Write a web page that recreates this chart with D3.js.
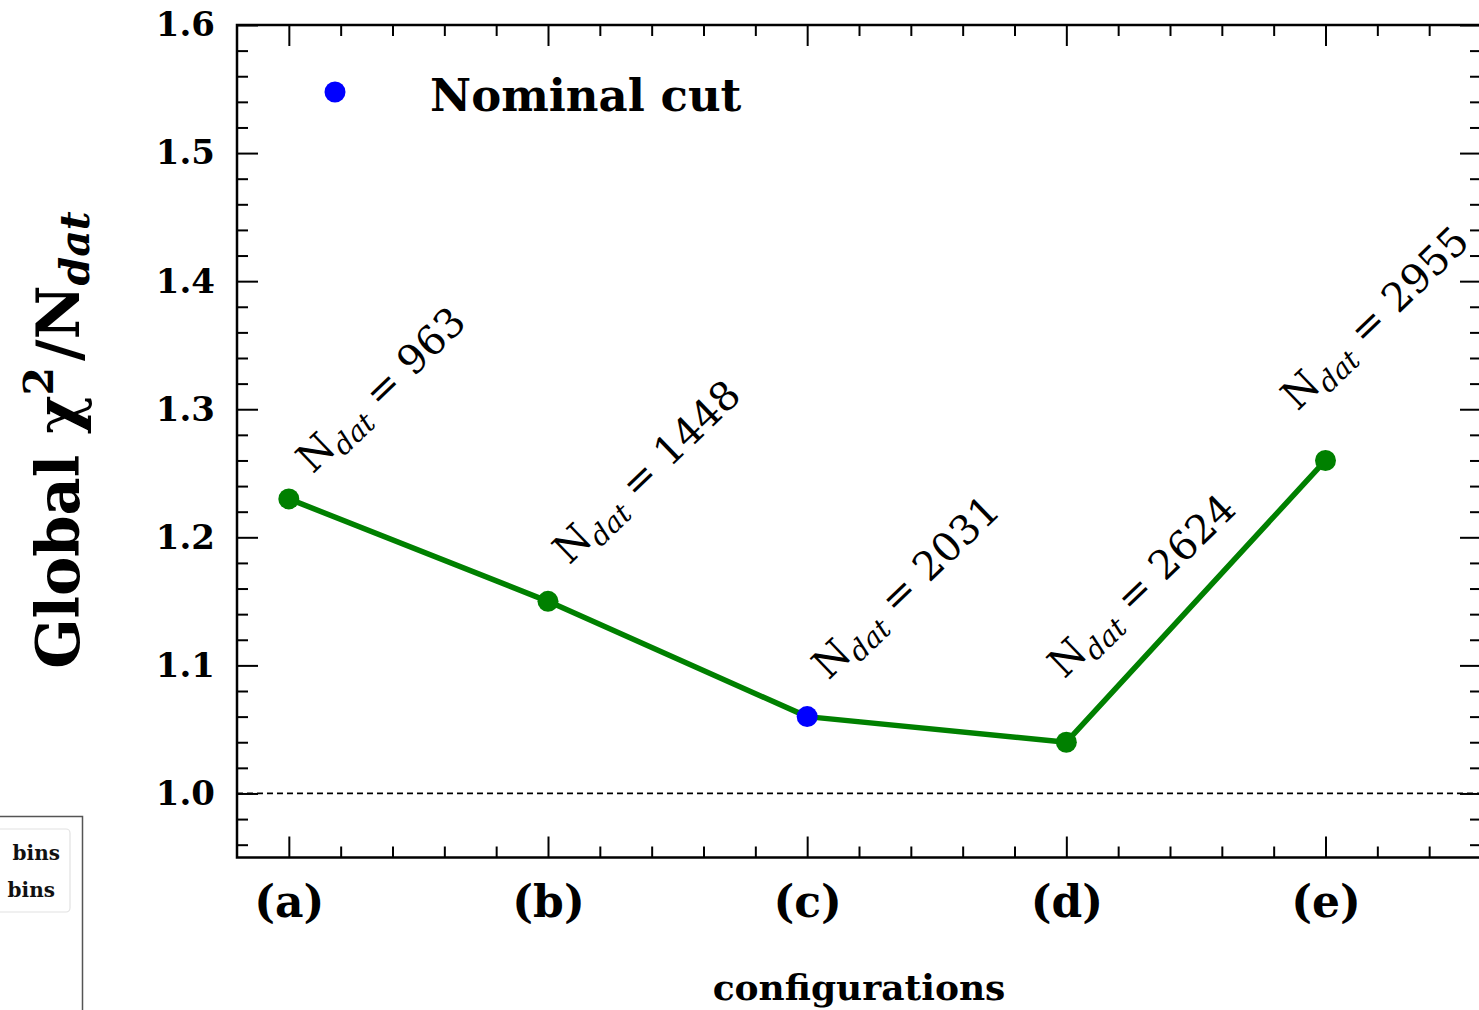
<!DOCTYPE html>
<html>
<head>
<meta charset="utf-8">
<script src="https://cdn.jsdelivr.net/npm/d3@7"></script>
<style>
  html, body { margin: 0; padding: 0; background: #ffffff; }
  svg { display: block; }
</style>
</head>
<body>
<svg id="chart" width="1479" height="1010"></svg>
<script>
// ---- data ----
const configurations = ["(a)", "(b)", "(c)", "(d)", "(e)"];
const chi2PerPoint = [1.23, 1.15, 1.06, 1.04, 1.26];
const nDat = [963, 1448, 2031, 2624, 2955];
const nominalConfig = "(c)";
const yTickValues = [1.0, 1.1, 1.2, 1.3, 1.4, 1.5, 1.6];
const yTickLabels = ["1.0", "1.1", "1.2", "1.3", "1.4", "1.5", "1.6"];

// ---- layout ----
const plot = { left: 237, right: 1481, top: 25, bottom: 857.5 };
const serif = "'DejaVu Serif', 'Liberation Serif', serif";
// where each N_dat annotation starts, relative to its point (x in category units, y in chi2 units)
const annotationShift = [
  [0.092, 0.019], [0.082, 0.028], [0.082, 0.028], [-0.008, 0.049], [-0.108, 0.038]
];

const svg = d3.select("#chart");

const x = d3.scaleLinear().domain([-0.2, 4.6]).range([plot.left, plot.right]);
const y = d3.scaleLinear().domain([0.95, 1.6]).range([plot.bottom, plot.top]);

const idx = d3.range(configurations.length);
const xMinor = d3.range(1, 23).map(k => k * 0.2).filter(v => Math.abs(v - Math.round(v)) > 1e-6 && v < 4.59);
const yMinor = d3.range(0, 33).map(k => +(0.96 + k * 0.02).toFixed(2))
  .filter(v => v < 1.6 && Math.abs(v * 10 - Math.round(v * 10)) > 1e-6);

const axesG = svg.append("g");

function styleAxis(g) {
  g.select(".domain").remove();
  g.selectAll(".tick line").attr("stroke", "#000").attr("stroke-width", 2);
}

// bottom (labelled) and top major ticks
axesG.append("g").attr("transform", `translate(0,${plot.bottom})`)
  .call(d3.axisBottom(x).tickValues(idx).tickSize(-21).tickFormat(i => configurations[i]))
  .call(styleAxis)
  .call(g => g.selectAll("text")
    .attr("y", 59).attr("dy", null)
    .attr("font-family", serif).attr("font-weight", "bold")
    .attr("font-size", 44).attr("fill", "#000"));
axesG.append("g").attr("transform", `translate(0,${plot.bottom})`)
  .call(d3.axisBottom(x).tickValues(xMinor).tickSize(-11).tickFormat(""))
  .call(styleAxis);
axesG.append("g").attr("transform", `translate(0,${plot.top})`)
  .call(d3.axisTop(x).tickValues(idx).tickSize(-21).tickFormat(""))
  .call(styleAxis);
axesG.append("g").attr("transform", `translate(0,${plot.top})`)
  .call(d3.axisTop(x).tickValues(xMinor).tickSize(-11).tickFormat(""))
  .call(styleAxis);

// left (labelled) and right ticks
axesG.append("g").attr("transform", `translate(${plot.left},0)`)
  .call(d3.axisLeft(y).tickValues(yTickValues).tickSize(-21).tickPadding(22)
    .tickFormat((d, i) => yTickLabels[i]))
  .call(styleAxis)
  .call(g => g.selectAll("text")
    .attr("font-family", serif).attr("font-weight", "bold")
    .attr("font-size", 34).attr("fill", "#000"));
axesG.append("g").attr("transform", `translate(${plot.left},0)`)
  .call(d3.axisLeft(y).tickValues(yMinor).tickSize(-11).tickFormat(""))
  .call(styleAxis);
axesG.append("g").attr("transform", `translate(${plot.right},0)`)
  .call(d3.axisRight(y).tickValues(yTickValues).tickSize(-21).tickFormat(""))
  .call(styleAxis);
axesG.append("g").attr("transform", `translate(${plot.right},0)`)
  .call(d3.axisRight(y).tickValues(yMinor).tickSize(-11).tickFormat(""))
  .call(styleAxis);

// frame
svg.append("rect")
  .attr("x", plot.left).attr("y", plot.top)
  .attr("width", plot.right - plot.left).attr("height", plot.bottom - plot.top)
  .attr("fill", "none").attr("stroke", "#000").attr("stroke-width", 2.5);

// reference line at chi2/N = 1
svg.append("line")
  .attr("x1", plot.left).attr("x2", plot.right)
  .attr("y1", y(1.0)).attr("y2", y(1.0))
  .attr("stroke", "#000").attr("stroke-width", 1.8)
  .attr("stroke-dasharray", "6,4");

// series line
const line = d3.line().x(i => x(i)).y(i => y(chi2PerPoint[i]));
svg.append("path").datum(idx)
  .attr("d", line)
  .attr("fill", "none").attr("stroke", "#008000").attr("stroke-width", 5.5)
  .attr("stroke-linejoin", "round");

// markers
svg.append("g").selectAll("circle").data(idx).join("circle")
  .attr("cx", i => x(i)).attr("cy", i => y(chi2PerPoint[i]))
  .attr("r", 10.5)
  .attr("fill", i => configurations[i] === nominalConfig ? "#0000ff" : "#008000");

// N_dat annotations
const ann = svg.append("g").selectAll("g").data(idx).join("g")
  .attr("transform", i => `translate(${x(i + annotationShift[i][0])},${y(chi2PerPoint[i] + annotationShift[i][1])}) rotate(-44)`);
const annText = ann.append("text")
  .attr("font-family", serif).attr("font-size", 40).attr("fill", "#000");
annText.append("tspan").text("N");
annText.append("tspan").attr("font-style", "italic").attr("font-size", 28).attr("dy", 9).text("dat");
annText.append("tspan").attr("dy", -9).text(" = ");
annText.append("tspan").text(i => nDat[i]);

// legend
svg.append("circle").attr("cx", 335).attr("cy", 92).attr("r", 10.5).attr("fill", "#0000ff");
svg.append("text").attr("x", 430).attr("y", 111)
  .attr("font-family", serif).attr("font-weight", "bold").attr("font-size", 45)
  .attr("fill", "#000").text("Nominal cut");

// axis titles
svg.append("text").attr("x", 859).attr("y", 1000).attr("text-anchor", "middle")
  .attr("font-family", serif).attr("font-weight", "bold").attr("font-size", 36)
  .attr("fill", "#000").text("configurations");

const yTitle = svg.append("text")
  .attr("transform", "translate(79,440) rotate(-90)")
  .attr("text-anchor", "middle")
  .attr("font-family", serif).attr("font-weight", "bold").attr("font-size", 59)
  .attr("fill", "#000");
yTitle.append("tspan").text("Global \u03C7");
yTitle.append("tspan").attr("font-size", 41).attr("dy", -26).text("2");
yTitle.append("tspan").attr("dy", 26).attr("dx", 6).text("/N");
yTitle.append("tspan").attr("font-size", 41).attr("font-style", "italic").attr("dy", 10).text("dat");

// side panel with the bins list
const panel = svg.append("g");
panel.append("path").attr("d", "M0,816.5H82.5V1010")
  .attr("fill", "none").attr("stroke", "#555").attr("stroke-width", 1.5);
panel.append("rect").attr("x", -6).attr("y", 829).attr("width", 76).attr("height", 83).attr("rx", 4)
  .attr("fill", "#fff").attr("stroke", "#e2e2e2").attr("stroke-width", 1.2);
panel.append("text").attr("x", 60).attr("y", 860).attr("text-anchor", "end")
  .attr("font-family", serif).attr("font-weight", "bold").attr("font-size", 20).attr("fill", "#111").text("bins");
panel.append("text").attr("x", 55).attr("y", 897).attr("text-anchor", "end")
  .attr("font-family", serif).attr("font-weight", "bold").attr("font-size", 20).attr("fill", "#111").text("bins");
</script>
</body>
</html>
